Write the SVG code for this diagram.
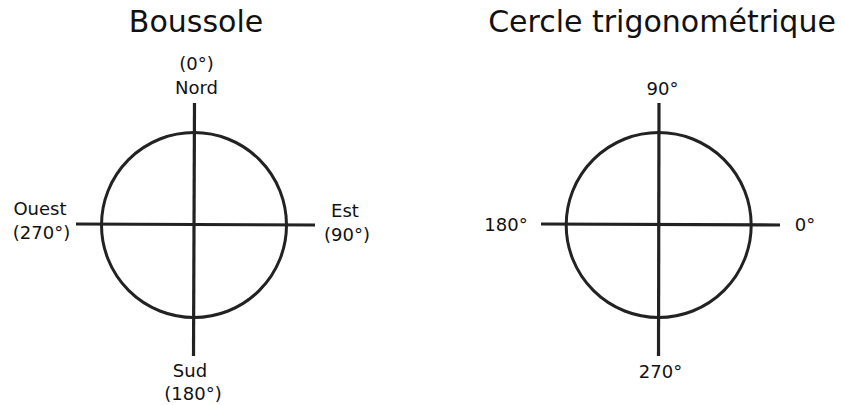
<svg xmlns="http://www.w3.org/2000/svg" width="841" height="405" viewBox="0 0 841 405">
<style>
.t{font-family:"DejaVu Sans",sans-serif;fill:#111;text-anchor:middle}
.h{font-size:30px}
.l{font-size:18px}
.c{fill:none;stroke:#222;stroke-width:3}
.a{stroke:#222;stroke-width:3.2;fill:none}
</style>
<rect width="841" height="405" fill="#fff"/>
<g id="boussole">
<text class="t h" x="196" y="32">Boussole</text>
<circle id="circle-left" class="c" cx="194" cy="225" r="92.5"/>
<g id="nord"><text class="t l" x="196.5" y="70">(0°)</text><text class="t l" x="196.5" y="94">Nord</text></g>
<g id="ouest"><text class="t l" x="40" y="215">Ouest</text><text class="t l" x="41.5" y="239">(270°)</text></g>
<g id="est"><text class="t l" x="345" y="217">Est</text><text class="t l" x="347" y="241">(90°)</text></g>
<g id="sud"><text class="t l" x="190" y="377">Sud</text><text class="t l" x="193" y="400">(180°)</text></g>
</g>
<g id="trigo">
<text class="t h" x="662" y="32">Cercle trigonométrique</text>
<circle id="circle-right" class="c" cx="658.7" cy="225" r="92.5"/>
<g id="l90"><text class="t l" x="662.5" y="95">90°</text></g>
<g id="l180"><text class="t l" x="506" y="231">180°</text></g>
<g id="l0"><text class="t l" x="805" y="231">0°</text></g>
<g id="l270"><text class="t l" x="660.5" y="378">270°</text></g>
</g>
<g id="connectors">
<line class="a" x1="194.5" y1="103" x2="193.5" y2="356"/>
<line class="a" x1="76" y1="224" x2="315" y2="225"/>
<line class="a" x1="659" y1="103" x2="658.5" y2="356"/>
<line class="a" x1="541" y1="224" x2="780" y2="225"/>
</g>
</svg>
